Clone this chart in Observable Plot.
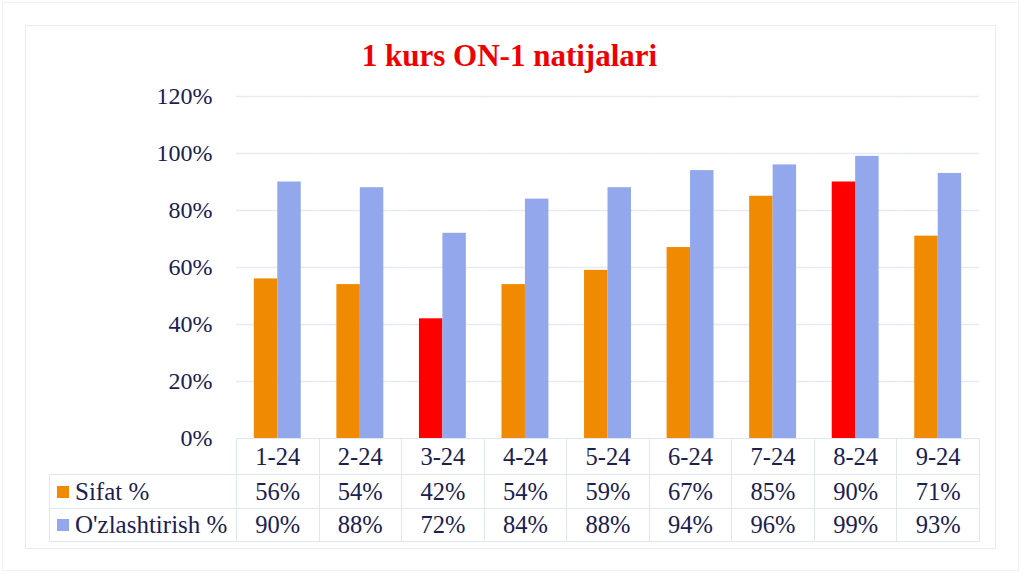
<!DOCTYPE html>
<html><head><meta charset="utf-8">
<script src="https://cdn.jsdelivr.net/npm/d3@7"></script>
<script src="https://cdn.jsdelivr.net/npm/@observablehq/plot@0.6"></script>
<style>
body{margin:0;background:#fff;}
#page, #page *{font-family:'Liberation Serif','Times New Roman',Times,serif;}
#page{position:relative;width:1024px;height:574px;overflow:hidden;color:#1a2050;background:#fff;}
#outer{position:absolute;left:2px;top:2px;width:1015px;height:567px;border:1px solid #f1f2f4;}
#panel{position:absolute;left:25px;top:25px;width:969px;height:522px;border:1px solid #e6ecf4;}
#title{position:absolute;left:25px;width:969px;top:38px;text-align:center;color:#ee0000;font-weight:bold;font-size:31px;line-height:36px;}
#chart{position:absolute;left:0;top:0;}
#tbl{position:absolute;border-collapse:collapse;table-layout:fixed;font-size:24.5px;color:#1a2050;}
#tbl td{border:1px solid #dfe7f2;text-align:center;vertical-align:middle;padding:0;white-space:nowrap;}
#tbl td.lab{text-align:left;padding-left:7px;font-size:25px;}
#tbl td.blank{border-top:none;border-left:none;}
.sw{display:inline-block;width:12px;height:12px;margin-right:6px;vertical-align:middle;position:relative;top:-2px;}
</style>
</head><body>
<div id="page">
  <div id="outer"></div>
  <div id="panel"></div>
  <div id="title">1 kurs ON-1 natijalari</div>
  <div id="chart"></div>
</div>
<script>
const categories = ["1-24","2-24","3-24","4-24","5-24","6-24","7-24","8-24","9-24"];
const sifat = [56,54,42,54,59,67,85,90,71];
const ozlashtirish = [90,88,72,84,88,94,96,99,93];
const seriesNames = ["Sifat %","O'zlashtirish %"];
const yTicks = [0,20,40,60,80,100,120];
const highlighted = ["3-24","8-24"];

const seriesColor = {"Sifat %":"#f08a00","O'zlashtirish %":"#93a8ec"};
const highlightColor = "#ff0000";
const serif = "'Liberation Serif', 'Times New Roman', Times, serif";

const rows = categories.flatMap((c,i)=>[
  {cat:c, series:seriesNames[0], value:sifat[i]},
  {cat:c, series:seriesNames[1], value:ozlashtirish[i]}
]);

const plot = Plot.plot({
  width:1024, height:440,
  marginTop:96, marginBottom:2, marginLeft:236, marginRight:45,
  style:{fontFamily:serif, fontSize:"24px", color:"#1a2050", background:"transparent", overflow:"visible"},
  fx:{domain:categories, padding:0, round:false, axis:null},
  x:{domain:seriesNames, paddingInner:0, paddingOuter:0.76, round:false, axis:null},
  y:{domain:[0,120], axis:null},
  color:{type:"identity"},
  marks:[
    Plot.gridY(yTicks.filter(d=>d>0), {stroke:"#e4ebf4", strokeOpacity:1, strokeWidth:1.5}),
    Plot.axisY(yTicks, {tickSize:0, tickPadding:24, tickFormat:d=>d+"%", fontSize:24, fontFamily:serif, fill:"#1a2050", label:null}),
    Plot.barY(rows, {fx:"cat", x:"series", y:"value",
      fill:d=> (d.series===seriesNames[0] && highlighted.includes(d.cat)) ? highlightColor : seriesColor[d.series]})
  ]
});
document.getElementById("chart").appendChild(plot);

// Data table aligned with the fx band scale
const fx = plot.scale("fx");
const bw = fx.bandwidth;
const x0 = fx.apply(categories[0]);
const tbl = document.createElement("table");
tbl.id = "tbl";
const labelW = x0 - 49;
tbl.style.left = "49px";
tbl.style.top = "438px";
tbl.style.width = (labelW + bw*categories.length) + "px";
const cg = document.createElement("colgroup");
[labelW, ...categories.map(()=>bw)].forEach(w=>{const c=document.createElement("col");c.style.width=w+"px";cg.appendChild(c);});
tbl.appendChild(cg);
const tr0 = document.createElement("tr"); tr0.style.height="36px";
const b = document.createElement("td"); b.className="blank"; tr0.appendChild(b);
categories.forEach(c=>{const td=document.createElement("td");td.textContent=c;tr0.appendChild(td);});
tbl.appendChild(tr0);
[[seriesNames[0], sifat, 34],[seriesNames[1], ozlashtirish, 33]].forEach(([name, vals, h])=>{
  const tr=document.createElement("tr"); tr.style.height=h+"px";
  const td=document.createElement("td"); td.className="lab";
  const sw=document.createElement("span"); sw.className="sw"; sw.style.background=seriesColor[name];
  td.appendChild(sw); td.appendChild(document.createTextNode(name)); tr.appendChild(td);
  vals.forEach(v=>{const c=document.createElement("td");c.textContent=v+"%";tr.appendChild(c);});
  tbl.appendChild(tr);
});
document.getElementById("page").appendChild(tbl);
</script>
</body></html>
